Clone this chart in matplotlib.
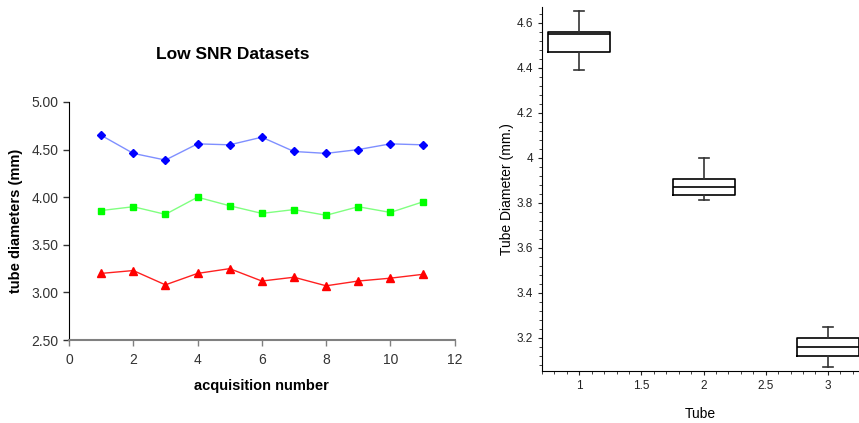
import numpy as np
import matplotlib
matplotlib.use('Agg')
import matplotlib.pyplot as plt
from matplotlib.ticker import MultipleLocator, FormatStrFormatter, FuncFormatter

plt.rcParams['font.family'] = ['Liberation Sans', 'DejaVu Sans']

# acquisition numbers and measured tube diameters (mm)
acq = [1, 2, 3, 4, 5, 6, 7, 8, 9, 10, 11]
tube1 = [4.65, 4.46, 4.39, 4.56, 4.55, 4.63, 4.48, 4.46, 4.50, 4.56, 4.55]
tube2 = [3.86, 3.90, 3.82, 4.00, 3.91, 3.83, 3.87, 3.81, 3.90, 3.84, 3.95]
tube3 = [3.20, 3.23, 3.08, 3.20, 3.25, 3.12, 3.16, 3.07, 3.12, 3.15, 3.19]
tube_pos = [1, 2, 3]

fig = plt.figure(figsize=(8.59, 4.23), dpi=100)

# left: line chart
ax1 = fig.add_axes([0.0803, 0.196, 0.449, 0.563])
ax1.plot(acq, tube1, color='#7f8fff', lw=1, marker='D', ms=4.5, mfc='#0000ff', mec='#0000ff')
ax1.plot(acq, tube2, color='#80ff80', lw=1, marker='s', ms=5, mfc='#00ff00', mec='#00ff00')
ax1.plot(acq, tube3, color='#ff2020', lw=1, marker='^', ms=6, mfc='#ff0000', mec='#ff0000')
ax1.set_xlim(0, 12)
ax1.set_ylim(2.5, 5.0)
ax1.xaxis.set_major_locator(MultipleLocator(2))
ax1.yaxis.set_major_locator(MultipleLocator(0.5))
ax1.yaxis.set_major_formatter(FormatStrFormatter('%.2f'))
for s in ['top', 'right']:
    ax1.spines[s].set_visible(False)
ax1.spines['left'].set_color('#000000')
ax1.spines['bottom'].set_color('#808080')
ax1.spines['bottom'].set_linewidth(1.5)
ax1.tick_params(direction='out', length=4, labelsize=10, colors='#333333', width=1)
ax1.tick_params(axis='x', pad=5, color='#808080')
fig.text(0.271, 0.87, 'Low SNR Datasets', fontsize=12.5, fontweight='bold',
         ha='center', va='center')
ax1.set_xlabel('acquisition number', fontsize=10.5, fontweight='bold', labelpad=9)
ax1.set_ylabel('tube diameters (mm)', fontsize=10.5, fontweight='bold', labelpad=6)

# right: box plot
ax2 = fig.add_axes([0.631, 0.123, 0.369, 0.861])
ax2.boxplot([tube1, tube2, tube3], positions=tube_pos, widths=0.5, whis=(0, 100),
            capwidths=0.08, manage_ticks=False,
            boxprops=dict(color='black', lw=1.2),
            medianprops=dict(color='black', lw=1.2),
            whiskerprops=dict(color='#333333', lw=1.2),
            capprops=dict(color='#333333', lw=1.2))
ax2.set_xlim(0.7, 3.25)
ax2.set_ylim(3.053, 4.67)
ax2.xaxis.set_major_locator(MultipleLocator(0.5))
ax2.xaxis.set_minor_locator(MultipleLocator(0.1))
ax2.yaxis.set_major_locator(MultipleLocator(0.2))
ax2.yaxis.set_minor_locator(MultipleLocator(0.04))
ax2.xaxis.set_major_formatter(FuncFormatter(lambda v, p: '%g' % round(v, 2)))
ax2.yaxis.set_major_formatter(FuncFormatter(lambda v, p: '%g' % round(v, 2)))
for s in ['top', 'right']:
    ax2.spines[s].set_visible(False)
ax2.tick_params(which='major', direction='out', length=3, labelsize=8.5, colors='#222222')
ax2.tick_params(which='minor', direction='out', length=2, colors='#222222')
ax2.set_xlabel('Tube', fontsize=10, labelpad=11)
ax2.set_ylabel('Tube Diameter (mm.)', fontsize=10, labelpad=2)

fig.savefig('out.png', dpi=100)
